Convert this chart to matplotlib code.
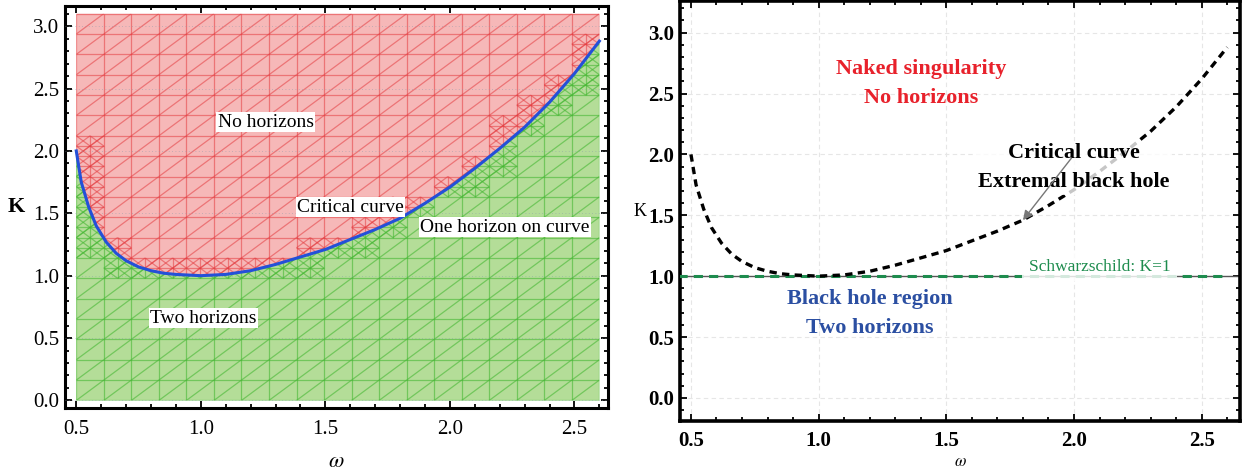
import numpy as np
import matplotlib
matplotlib.use("Agg")
import matplotlib.pyplot as plt
from matplotlib.collections import LineCollection
from matplotlib.patches import Polygon
from matplotlib.ticker import MultipleLocator

plt.rcParams["font.family"] = ["Liberation Serif", "DejaVu Serif"]
plt.rcParams["mathtext.fontset"] = "stix"

# Critical curve K(omega) separating the horizon regimes
omega = [0.50, 0.52, 0.55, 0.58, 0.62, 0.66, 0.70, 0.75, 0.80, 0.85, 0.90,
         1.00, 1.10, 1.20, 1.30, 1.40, 1.50, 1.60, 1.70, 1.80, 1.90, 2.00,
         2.10, 2.20, 2.30, 2.40, 2.50, 2.60]
K_crit = [2.00, 1.75, 1.55, 1.40, 1.27, 1.18, 1.12, 1.07, 1.04, 1.02, 1.01,
          1.00, 1.01, 1.04, 1.09, 1.15, 1.21, 1.29, 1.37, 1.46, 1.58, 1.71,
          1.86, 2.02, 2.19, 2.39, 2.62, 2.88]
K_schwarzschild = 1.0
omega_range = [0.5, 2.6]
K_range = [0.0, 3.1]
x_ticks = [0.5, 1.0, 1.5, 2.0, 2.5]
y_ticks = [0.0, 0.5, 1.0, 1.5, 2.0, 2.5, 3.0]

w = np.array(omega)
kc = np.array(K_crit)

fig = plt.figure(figsize=(12.44, 4.76), dpi=100)
axL = fig.add_axes([0.0523, 0.143, 0.4365, 0.844])
axR = fig.add_axes([0.5466, 0.1155, 0.4502, 0.8824])


def frame_style(ax, lw, labelsize, weight, xpad):
    for s in ax.spines.values():
        s.set_linewidth(lw)
    ax.xaxis.set_minor_locator(MultipleLocator(0.1))
    ax.yaxis.set_minor_locator(MultipleLocator(0.1))
    ax.tick_params(which="both", direction="in", top=True, right=True,
                   width=1.3, labelsize=labelsize, pad=4)
    ax.tick_params(axis="x", which="major", pad=xpad)
    ax.tick_params(which="major", length=5)
    ax.tick_params(which="minor", length=3)
    ax.set_xticks(x_ticks)
    ax.set_yticks(y_ticks)
    ax.set_xticklabels([f"{v:.1f}" for v in x_ticks], fontweight=weight)
    ax.set_yticklabels([f"{v:.1f}" for v in y_ticks], fontweight=weight)


# ---------------- left panel: region plot ----------------
w0, w1 = omega_range
k0, k1 = K_range
upper = np.vstack([np.column_stack([w, kc]), [[w1, k1], [w0, k1]]])
lower = np.vstack([np.column_stack([w, kc]), [[w1, k0], [w0, k0]]])

red_fill = Polygon(upper, closed=True, facecolor="#f6b8b8", edgecolor="none", zorder=1)
green_fill = Polygon(lower, closed=True, facecolor="#b4dd98", edgecolor="none", zorder=1)
axL.add_patch(red_fill)
axL.add_patch(green_fill)

# mesh: regular grid with one diagonal per cell, refined where the boundary crosses
n = 19
gw = np.linspace(w0, w1, n + 1)
gk = np.linspace(k0, k1, n + 1)
segs = []
for x in gw:
    segs.append([(x, k0), (x, k1)])
for y in gk:
    segs.append([(w0, y), (w1, y)])
for i in range(n):
    for j in range(n):
        segs.append([(gw[i], gk[j]), (gw[i + 1], gk[j + 1])])
fine = np.linspace(w0, w1, 400)
fine_k = np.interp(fine, w, kc)
for i in range(n):
    sel = (fine >= gw[i]) & (fine <= gw[i + 1])
    lo, hi = fine_k[sel].min(), fine_k[sel].max()
    for j in range(n):
        if hi >= gk[j] and lo <= gk[j + 1]:
            xa, xb = gw[i], gw[i + 1]
            ya, yb = gk[j], gk[j + 1]
            xm, ym = (xa + xb) / 2, (ya + yb) / 2
            segs.append([(xm, ya), (xm, yb)])
            segs.append([(xa, ym), (xb, ym)])
            for (sx, ex) in [(xa, xm), (xm, xb)]:
                for (sy, ey) in [(ya, ym), (ym, yb)]:
                    segs.append([(sx, sy), (ex, ey)])
                    segs.append([(sx, ey), (ex, sy)])

red_mesh = LineCollection(segs, colors="#e43c40", linewidths=0.9, alpha=0.55, zorder=2)
green_mesh = LineCollection(segs, colors="#46b834", linewidths=0.9, alpha=0.6, zorder=2)
axL.add_collection(red_mesh)
axL.add_collection(green_mesh)
red_mesh.set_clip_path(red_fill)
green_mesh.set_clip_path(green_fill)

for yv in y_ticks:
    axL.axhline(yv, color="#8899aa", lw=0.6, ls=(0, (1, 3)), alpha=0.6, zorder=3)

axL.plot(w, kc, color="#2450d8", lw=2.2, zorder=5)

box = dict(facecolor="white", edgecolor="none", pad=1.0)
axL.text(1.26, 2.23, "No horizons", fontsize=14, ha="center", va="center", bbox=box, zorder=6)
axL.text(1.60, 1.55, "Critical curve", fontsize=14, ha="center", va="center", bbox=box, zorder=6)
axL.text(2.22, 1.39, "One horizon on curve", fontsize=14, ha="center", va="center", bbox=box, zorder=6)
axL.text(1.01, 0.66, "Two horizons", fontsize=14, ha="center", va="center", bbox=box, zorder=6)

axL.set_xlim(0.455, 2.635)
axL.set_ylim(-0.06, 3.16)
frame_style(axL, 2.2, 15, "normal", 9)
axL.set_xlabel(r"$\omega$", fontsize=16, va="center")
axL.xaxis.set_label_coords(0.5, -0.137)
axL.set_ylabel("K", fontsize=16, fontweight="bold", rotation=0, labelpad=12, va="center")

# ---------------- right panel: annotated curve ----------------
axR.grid(True, which="major", color="#e6e6e6", ls=(0, (4, 3)), lw=0.8, zorder=0)
axR.axhline(K_schwarzschild, color="#555555", lw=1.0, zorder=2)
axR.plot([0.45, w1], [K_schwarzschild, K_schwarzschild], color="#1e8c4e",
         lw=2.2, ls=(0, (3, 2)), zorder=3)
axR.plot(w, kc, color="black", lw=2.4, ls=(0, (2.2, 1.6)), zorder=4)

axR.text(1.40, 2.585, "Naked singularity\nNo horizons", color="#e8212b",
         fontsize=16, fontweight="bold", ha="center", va="center",
         linespacing=1.6, zorder=6)
axR.text(2.00, 1.89, "Critical curve\nExtremal black hole", color="black",
         fontsize=16, fontweight="bold", ha="center", va="center",
         linespacing=1.6, zorder=6,
         bbox=dict(facecolor="white", edgecolor="none", alpha=0.78, pad=2))
axR.annotate("", xy=(1.80, 1.46), xytext=(1.99, 1.97),
             arrowprops=dict(arrowstyle="-|>", color="#777777", lw=1.0,
                             mutation_scale=14, shrinkA=0, shrinkB=0),
             zorder=7)
axR.text(2.10, 1.075, "Schwarzschild: K=1", color="#1e8c4e", fontsize=12.5,
         ha="center", va="center", zorder=6,
         bbox=dict(facecolor="white", edgecolor="none", alpha=0.82, pad=4.5))
axR.text(1.20, 0.695, "Black hole region\nTwo horizons", color="#2b4fa2",
         fontsize=16, fontweight="bold", ha="center", va="center",
         linespacing=1.6, zorder=6)

axR.set_xlim(0.457, 2.65)
axR.set_ylim(-0.19, 3.26)
frame_style(axR, 2.6, 15, "bold", 7)
axR.set_xlabel(r"$\omega$", fontsize=12, va="center")
axR.xaxis.set_label_coords(0.5, -0.098)
axR.set_ylabel("K", fontsize=13, rotation=0, labelpad=6, va="center")

fig.savefig("out.png", dpi=100)
